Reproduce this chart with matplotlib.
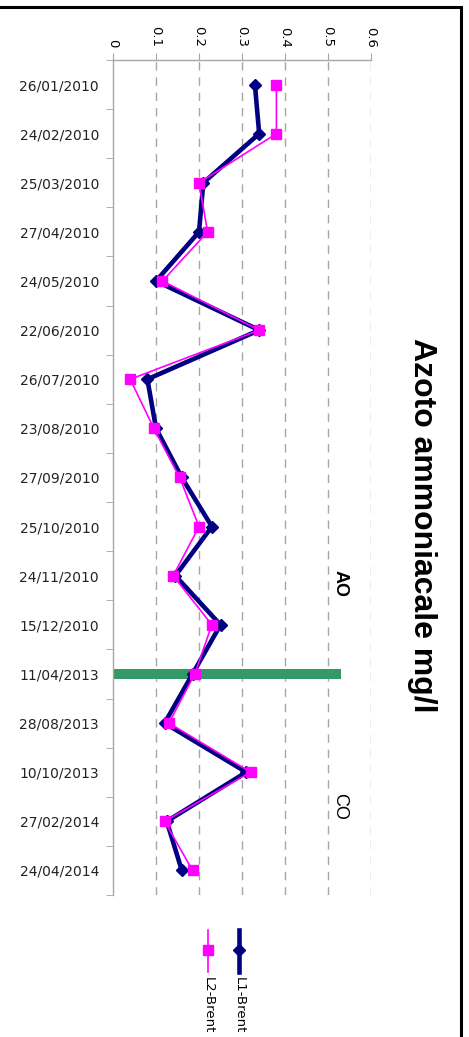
import matplotlib
matplotlib.use("Agg")
import matplotlib.pyplot as plt
from matplotlib.lines import Line2D
from matplotlib.patches import Rectangle

dates = ["26/01/2010", "24/02/2010", "25/03/2010", "27/04/2010", "24/05/2010",
         "22/06/2010", "26/07/2010", "23/08/2010", "27/09/2010", "25/10/2010",
         "24/11/2010", "15/12/2010", "11/04/2013", "28/08/2013", "10/10/2013",
         "27/02/2014", "24/04/2014"]
l1_brent = [0.33, 0.34, 0.21, 0.20, 0.10, 0.34, 0.08, 0.10, 0.16, 0.23,
            0.145, 0.25, 0.185, 0.12, 0.31, 0.125, 0.16]
l2_brent = [0.38, 0.38, 0.20, 0.22, 0.115, 0.34, 0.04, 0.095, 0.155, 0.20,
            0.14, 0.23, 0.19, 0.13, 0.32, 0.12, 0.185]
marker_date = "11/04/2013"
marker_value = 0.53
value_ticks = [0, 0.1, 0.2, 0.3, 0.4, 0.5, 0.6]
value_tick_labels = ["0", "0.1", "0.2", "0.3", "0.4", "0.5", "0.6"]
title = "Azoto ammoniacale mg/l"
period_labels = ["AO", "CO"]
period_label_pos = [10.15, 14.7]
series_names = ["L1-Brent", "L2-Brent"]

W, H = 469, 1037
fig = plt.figure(figsize=(W / 100, H / 100), dpi=100)
ax = fig.add_axes([113 / W, 1 - 895 / H, (371 - 113) / W, (895 - 60) / H])

NAVY = "#000080"
MAG = "#FF00FF"
GREEN = "#339966"
GRAY = "#A6A6A6"

ypos = list(range(len(dates)))
mi = dates.index(marker_date)
ax.barh([mi], [marker_value], height=0.2, color=GREEN, zorder=2)

ax.plot(l1_brent, ypos, color=NAVY, lw=3.3, marker="D", ms=6.5, zorder=3)
ax.plot(l2_brent, ypos, color=MAG, lw=1.2, marker="s", ms=6.5, zorder=4)

ax.set_xlim(0, 0.6)
ax.set_ylim(len(dates) - 0.5, -0.5)

ax.xaxis.tick_top()
ax.set_xticks(value_ticks)
ax.set_xticklabels(value_tick_labels, rotation=-90, va="bottom", ha="center",
                   fontsize=9.5, family="DejaVu Sans")
ax.tick_params(axis="x", which="major", direction="out", length=5, color=GRAY, pad=4)

ax.set_yticks(ypos)
ax.set_yticklabels(dates, fontsize=10, family="DejaVu Sans", color="#222222")
ax.set_yticks([i - 0.5 for i in range(len(dates) + 1)], minor=True)
ax.tick_params(axis="y", which="major", length=0, pad=10)
ax.tick_params(axis="y", which="minor", direction="out", length=5, color=GRAY)

for s in ["right", "bottom"]:
    ax.spines[s].set_visible(False)
for s in ["left", "top"]:
    ax.spines[s].set_color(GRAY)
    ax.spines[s].set_linewidth(1)

for v in value_ticks[1:]:
    ax.axvline(v, color=GRAY, lw=1, ls=(0, (6, 5)), zorder=1)

ax.text(0.528, period_label_pos[0], period_labels[0], rotation=-90, fontsize=13,
        fontweight="bold", family="Liberation Sans", ha="center", va="center")
ax.text(0.528, period_label_pos[1], period_labels[1], rotation=-90, fontsize=13,
        family="Liberation Sans", ha="center", va="center")

fig.text(422 / W, 1 - 525 / H, title, rotation=-90, fontsize=23, fontweight="bold",
         family="Liberation Sans", ha="center", va="center")

# legend
leg = [(239, NAVY, 3.3, "D", 6.5, series_names[0]), (208, MAG, 1.2, "s", 6.5, series_names[1])]
for x, c, lw, m, ms, name in leg:
    fx = x / W
    fig.add_artist(Line2D([fx, fx], [1 - 930 / H, 1 - 972 / H], color=c, lw=lw,
                          transform=fig.transFigure))
    fig.add_artist(Line2D([fx], [1 - 950 / H], color=c, marker=m, ms=ms, lw=0,
                          transform=fig.transFigure))
    fig.text(fx, 1 - 977 / H, name, rotation=-90, fontsize=9.5, family="DejaVu Sans",
             ha="center", va="top")

fig.add_artist(Rectangle((-0.1, -0.1), 461 / W + 0.1, 1 - 7 / H + 0.1, fill=False,
                         ec="black", lw=2.2, transform=fig.transFigure))

fig.savefig("out.png", dpi=100)
